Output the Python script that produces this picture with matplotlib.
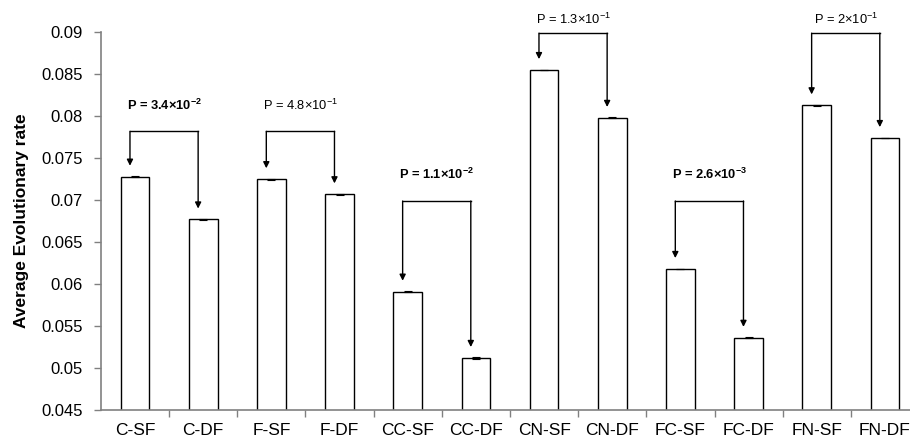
import numpy as np
import matplotlib.pyplot as plt

plt.rcParams['font.family'] = ['Liberation Sans', 'DejaVu Sans']
plt.rcParams['mathtext.fontset'] = 'custom'
plt.rcParams['mathtext.rm'] = 'Liberation Sans'
plt.rcParams['mathtext.bf'] = 'Liberation Sans:bold'
plt.rcParams['mathtext.default'] = 'regular'

categorias = ["C-SF", "C-DF", "F-SF", "F-DF", "CC-SF", "CC-DF",
              "CN-SF", "CN-DF", "FC-SF", "FC-DF", "FN-SF", "FN-DF"]
tasa = [0.0728, 0.0677, 0.0725, 0.0707, 0.0591, 0.0512,
        0.0855, 0.0798, 0.0618, 0.0536, 0.0813, 0.0774]
error = [0.00005, 0.00004, 0.00005, 0.00004, 0.00006, 0.00012,
         0.00004, 0.00007, 0.00005, 0.00008, 0.00004, 0.00002]

# pares comparados: indice SF, texto, negrita, nivel corchete, nivel texto
pares_i = [0, 2, 4, 6, 8, 10]
p_textos = [r"P = 3.4$\times$10$^{-2}$", r"P = 4.8$\times$10$^{-1}$",
            r"P = 1.1$\times$10$^{-2}$", r"P = 1.3$\times$10$^{-1}$",
            r"P = 2.6$\times$10$^{-3}$", r"P = 2$\times$10$^{-1}$"]
p_negrita = [True, False, True, False, True, False]
nivel_corchete = [0.0782, 0.0782, 0.0699, 0.0899, 0.0699, 0.0899]
nivel_texto = [0.0813, 0.0813, 0.0731, 0.0915, 0.0731, 0.0915]

fig = plt.figure(figsize=(9.1, 4.48), dpi=100)
ax = fig.add_axes([101 / 910, 38 / 448, 818 / 910, 377.7 / 448])

x = np.arange(len(categorias))
ax.bar(x, tasa, width=0.42, color="white", edgecolor="black", linewidth=1.0, zorder=2)
ax.errorbar(x, tasa, yerr=error, fmt="none", ecolor="black", elinewidth=0.8,
            capsize=3, capthick=0.8, zorder=3)

desp = -0.075
hueco = 0.0013
for k, i in enumerate(pares_i):
    j = i + 1
    xa, xb = x[i] + desp, x[j] + desp
    yc = nivel_corchete[k]
    ax.plot([xa, xb], [yc, yc], color="black", linewidth=1.0, clip_on=False, zorder=4)
    for xx, yy in [(xa, tasa[i]), (xb, tasa[j])]:
        ax.annotate("", xy=(xx, yy + hueco), xytext=(xx, yc),
                    arrowprops=dict(arrowstyle="-|>", color="black", lw=1.0,
                                    mutation_scale=9, shrinkA=0, shrinkB=0),
                    annotation_clip=False, zorder=4)
    ax.text((xa + xb) / 2, nivel_texto[k], p_textos[k], ha="center", va="center",
            fontsize=9.3, fontweight="bold" if p_negrita[k] else "normal",
            clip_on=False)

ax.set_xlim(-0.5, len(categorias) - 0.5)
ax.set_ylim(0.045, 0.09)
ax.set_yticks(np.arange(0.045, 0.0901, 0.005))
ax.set_yticklabels(["0.045", "0.05", "0.055", "0.06", "0.065", "0.07",
                    "0.075", "0.08", "0.085", "0.09"])
ax.set_xticks(x)
ax.set_xticklabels(categorias)
ax.set_xticks(np.arange(0.5, len(categorias) - 0.5, 1), minor=True)
ax.tick_params(axis="x", which="major", length=0, labelsize=12.5, pad=9)
ax.tick_params(axis="x", which="minor", length=5, color="#808080", width=1)
ax.tick_params(axis="y", length=5, color="#808080", width=1, labelsize=12, pad=8)

for lado in ["top", "right"]:
    ax.spines[lado].set_visible(False)
for lado in ["left", "bottom"]:
    ax.spines[lado].set_color("#808080")
    ax.spines[lado].set_linewidth(1.2)

ax.set_ylabel("Average Evolutionary rate", fontsize=12.5, fontweight="bold", labelpad=9)

plt.savefig("out.png", dpi=100)
